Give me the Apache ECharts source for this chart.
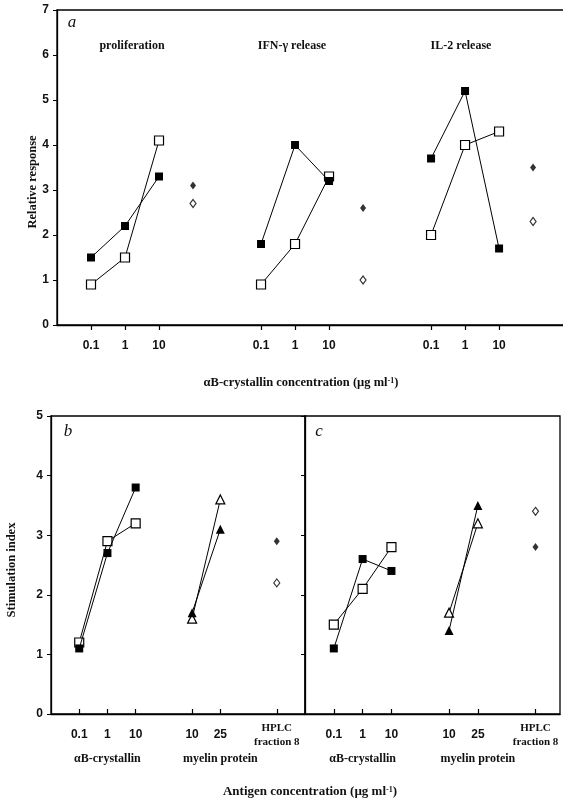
<!DOCTYPE html>
<html>
<head>
<meta charset="utf-8">
<script src="https://cdn.jsdelivr.net/npm/echarts@6/dist/echarts.min.js"></script>
<style>
    html, body {margin: 0; padding: 0; background: #fff;}
    #chart {width: 563px; height: 804px;}
</style>
</head>
<body>
<div id="chart"></div>
<script>
// tick + group labels
const concLabels = ['0.1', '1', '10'];
const myelinLabels = ['10', '25'];
const hplcLabel = 'HPLC\nfraction 8';
const groupLabelsA = ['proliferation', 'IFN-γ release', 'IL-2 release'];
const groupLabelsBC = ['αB-crystallin', 'myelin protein'];

// panel a: relative response (filled / open squares), diamonds = [filled, open]
const prolifFilled = [1.5, 2.2, 3.3];
const prolifOpen = [0.9, 1.5, 4.1];
const prolifDiamond = [3.1, 2.7];
const ifnFilled = [1.8, 4.0, 3.2];
const ifnOpen = [0.9, 1.8, 3.3];
const ifnDiamond = [2.6, 1.0];
const il2Filled = [3.7, 5.2, 1.7];
const il2Open = [2.0, 4.0, 4.3];
const il2Diamond = [3.5, 2.3];

// panel b: stimulation index
const bCrystFilled = [1.1, 2.7, 3.8];
const bCrystOpen = [1.2, 2.9, 3.2];
const bMyelinFilled = [1.7, 3.1];
const bMyelinOpen = [1.6, 3.6];
const bHplc = [2.9, 2.2];

// panel c: stimulation index
const cCrystFilled = [1.1, 2.6, 2.4];
const cCrystOpen = [1.5, 2.1, 2.8];
const cMyelinFilled = [1.4, 3.5];
const cMyelinOpen = [1.7, 3.2];
const cHplc = [2.8, 3.4];

const serif = 'Liberation Serif';
const sans = 'Liberation Sans';
const ink = '#111';

// x positions on the value axes (gaps between groups)
const groupStartA = [0, 5, 10];
const crystPos = concLabels.map((_, i) => i);
const myelinPos = myelinLabels.map((_, i) => 4 + i);
const hplcPos = 7;

let tickMapA = {};
groupStartA.forEach(s => concLabels.forEach((l, i) => tickMapA[s + i] = l));
let tickMapBC = {};
crystPos.forEach((p, i) => tickMapBC[p] = concLabels[i]);
myelinPos.forEach((p, i) => tickMapBC[p] = myelinLabels[i]);
tickMapBC[hplcPos] = hplcLabel;
const groupPosBC = [crystPos[1], myelinPos[1]];

function markerStyle(filled) {
    return filled ? {color: '#000'} : {color: '#fff', borderColor: '#000', borderWidth: 1.2};
}

function trend(grid, xs, ys, filled, symbol, size) {
    return {
        type: 'line',
        xAxisIndex: grid,
        yAxisIndex: grid,
        data: xs.map((x, i) => [x, ys[i]]),
        symbol: symbol,
        symbolSize: size,
        lineStyle: {color: '#000', width: 1},
        itemStyle: markerStyle(filled),
        z: filled ? 3 : 2
    };
}

function dots(grid, x, y, filled, size) {
    return {
        type: 'scatter',
        xAxisIndex: grid,
        yAxisIndex: grid,
        data: [[x, y]],
        symbol: 'diamond',
        symbolSize: size,
        itemStyle: markerStyle(filled)
    };
}

function xAxisFor(grid, min, max, ticks, map, inside) {
    return {
        type: 'value', gridIndex: grid, min: min, max: max, position: 'bottom',
        axisLine: {onZero: false, lineStyle: {color: '#000', width: 1.3}},
        axisTick: {show: true, customValues: ticks, inside: inside, length: 5, lineStyle: {color: '#000', width: 1.2}},
        axisLabel: {
            customValues: ticks, margin: 21, verticalAlign: 'middle',
            formatter: v => map[v] === hplcLabel ? '{h|HPLC}\n{h|fraction 8}' : map[v],
            color: ink, fontFamily: sans, fontSize: 12, fontWeight: 'bold',
            rich: {h: {fontFamily: serif, fontSize: 11, fontWeight: 'bold', color: ink, lineHeight: 14}}
        },
        splitLine: {show: false}
    };
}

function yAxisFor(grid, max, showLabels) {
    return {
        type: 'value', gridIndex: grid, min: 0, max: max, interval: 1,
        axisLine: {show: true, onZero: false, lineStyle: {color: '#000', width: 1.3}},
        axisTick: {show: true, length: 4, lineStyle: {color: '#000'}},
        axisLabel: {show: showLabels, margin: 8, color: ink, fontFamily: sans, fontSize: 12, fontWeight: 'bold'},
        splitLine: {show: false}
    };
}

function groupAxis(grid, min, max) {
    return {
        type: 'value', gridIndex: grid, min: min, max: max, position: 'bottom',
        axisLine: {show: false}, axisTick: {show: false}, splitLine: {show: false},
        axisLabel: {
            customValues: groupPosBC, margin: 45, verticalAlign: 'middle',
            formatter: v => groupLabelsBC[groupPosBC.indexOf(v)],
            color: ink, fontFamily: serif, fontSize: 12, fontWeight: 'bold'
        }
    };
}

let series = [];
[[prolifFilled, prolifOpen, prolifDiamond], [ifnFilled, ifnOpen, ifnDiamond], [il2Filled, il2Open, il2Diamond]]
    .forEach((set, g) => {
        let xs = concLabels.map((_, i) => groupStartA[g] + i);
        let dx = groupStartA[g] + concLabels.length;
        series.push(trend(0, xs, set[1], false, 'rect', 9));
        series.push(trend(0, xs, set[0], true, 'rect', 8));
        series.push(dots(0, dx, set[2][0], true, [6, 8]));
        series.push(dots(0, dx, set[2][1], false, [6, 8]));
    });
[[bCrystFilled, bCrystOpen, bMyelinFilled, bMyelinOpen, bHplc], [cCrystFilled, cCrystOpen, cMyelinFilled, cMyelinOpen, cHplc]]
    .forEach((set, k) => {
        let grid = k + 1;
        series.push(trend(grid, crystPos, set[1], false, 'rect', 9));
        series.push(trend(grid, crystPos, set[0], true, 'rect', 8));
        series.push(trend(grid, myelinPos, set[3], false, 'triangle', 9));
        series.push(trend(grid, myelinPos, set[2], true, 'triangle', 9));
        series.push(dots(grid, hplcPos, set[4][0], true, [6, 8]));
        series.push(dots(grid, hplcPos, set[4][1], false, [6, 8]));
    });

function label(text, x, y, font, extra) {
    return {
        type: 'text', x: x, y: y,
        style: Object.assign({text: text, align: 'center', verticalAlign: 'middle', fill: ink, font: font}, extra || {})
    };
}

const supRich = {sup: {font: 'bold 8px "Liberation Serif"', fill: ink, verticalAlign: 'top', padding: [0, 0, 5, 0]}};

let graphics = [
    label('a', 72, 23, 'italic 17px "Liberation Serif"'),
    label('b', 68, 432, 'italic 17px "Liberation Serif"'),
    label('c', 319, 432, 'italic 17px "Liberation Serif"'),
    label(groupLabelsA[0], 132, 46, 'bold 12px "Liberation Serif"'),
    label(groupLabelsA[1], 292, 46, 'bold 12px "Liberation Serif"'),
    label(groupLabelsA[2], 461, 46, 'bold 12px "Liberation Serif"'),
    label('αB-crystallin concentration (µg ml{sup|-1})', 301, 383, 'bold 12.5px "Liberation Serif"', {rich: supRich}),
    label('Antigen concentration (µg ml{sup|-1})', 310, 792, 'bold 13px "Liberation Serif"', {rich: supRich}),
    Object.assign(label('Relative response', 33, 182, 'bold 12.5px "Liberation Serif"'), {rotation: Math.PI / 2}),
    Object.assign(label('Stimulation index', 12, 570, 'bold 12.5px "Liberation Serif"'), {rotation: Math.PI / 2})
];

let chart = echarts.init(document.getElementById('chart'), null, {renderer: 'canvas'});

let option = {
    animation: false,
    backgroundColor: '#fff',
    grid: [
        // panel a runs past the right edge, so no right border shows
        {left: 57, top: 10, width: 540, height: 315, outerBoundsMode: 'none', containLabel: false,
            show: true, borderColor: '#000', borderWidth: 1.3},
        {left: 51, top: 416, width: 254, height: 298, outerBoundsMode: 'none', containLabel: false,
            show: true, borderColor: '#000', borderWidth: 1.3},
        {left: 305, top: 416, width: 255, height: 298, outerBoundsMode: 'none', containLabel: false,
            show: true, borderColor: '#000', borderWidth: 1.3}
    ],
    xAxis: [
        xAxisFor(0, -1, 14.88, Object.keys(tickMapA).map(Number), tickMapA, false),
        xAxisFor(1, -1, 8, Object.keys(tickMapBC).map(Number), tickMapBC, true),
        xAxisFor(2, -1, 7.85, Object.keys(tickMapBC).map(Number), tickMapBC, true),
        groupAxis(1, -1, 8),
        groupAxis(2, -1, 7.85)
    ],
    yAxis: [
        yAxisFor(0, 7, true),
        yAxisFor(1, 5, true),
        yAxisFor(2, 5, false)
    ],
    graphic: graphics,
    series: series
};

chart.setOption(option);
</script>
</body>
</html>
